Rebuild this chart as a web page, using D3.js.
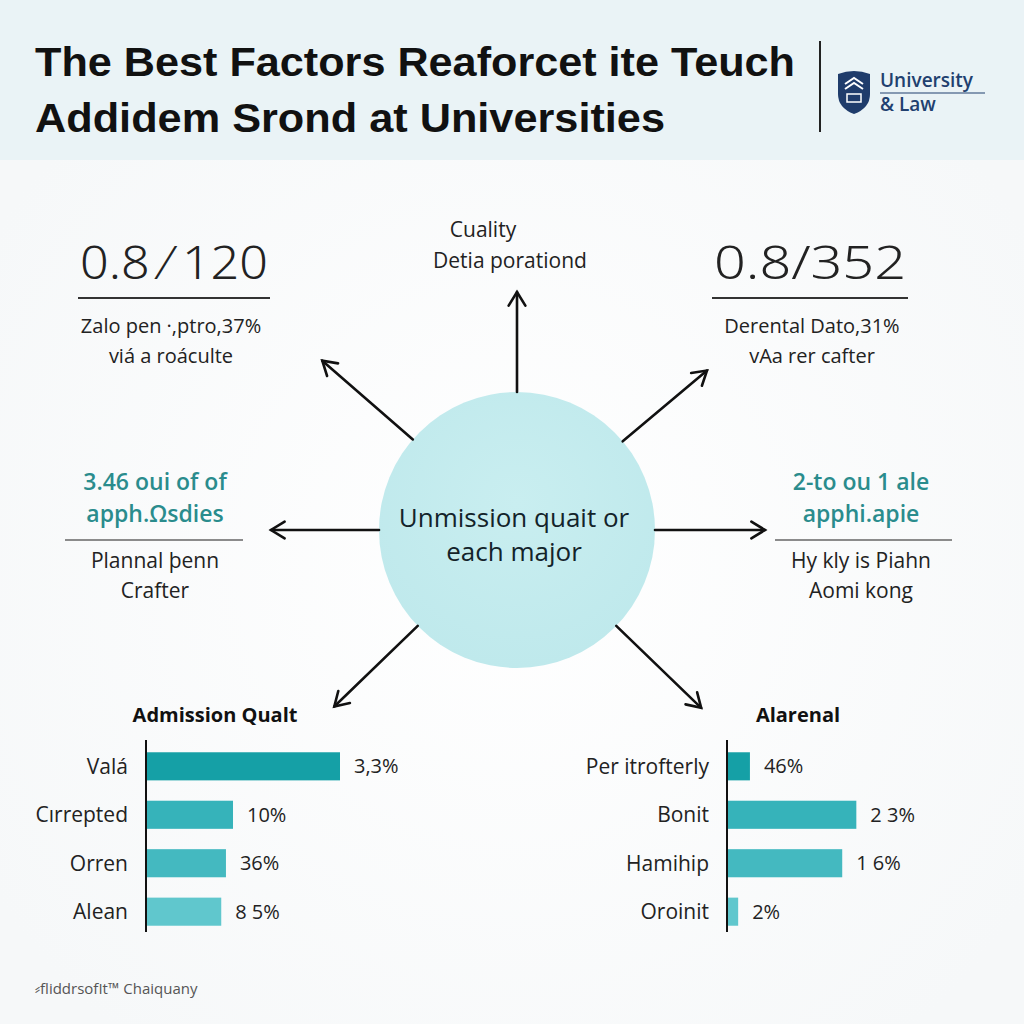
<!DOCTYPE html>
<html><head><meta charset="utf-8">
<script src="https://cdn.jsdelivr.net/npm/d3@7"></script>
<style>body{margin:0;background:#fff;}svg{display:block;}</style>
</head><body>
<script>
// ---- data ----
const titleLines = ["The Best Factors Reaforcet ite Teuch", "Addidem Srond at Universities"];
const logoLines = ["University", "& Law"];
const centerLines = ["Unmission quait or", "each major"];
const topLabel = ["Cuality", "Detia porationd"];
const statUL = {big: "0.8 ⁄ 120", lines: ["Zalo pen ·,ptro,37%", "viá a roáculte"]};
const statUR = {big: "0.8/352", lines: ["Derental Dato,31%", "vAa rer cafter"]};
const statML = {head: ["3.46 oui of of", "apph.Ωsdies"], lines: ["Plannal þenn", "Crafter"]};
const statMR = {head: ["2-to ou 1 ale", "apphi.apie"], lines: ["Hy kly is Piahn", "Aomi kong"]};
const leftTitle = "Admission Qualt";
const leftCats = ["Valá", "Cırrepted", "Orren", "Alean"];
const leftValues = [33, 14.8, 13.6, 12.8];
const leftLabels = ["3,3%", "10%", "36%", "8 5%"];
const rightTitle = "Alarenal";
const rightCats = ["Per itrofterly", "Bonit", "Hamihip", "Oroinit"];
const rightValues = [3.9, 22, 19.6, 1.9];
const rightLabels = ["46%", "2 3%", "1 6%", "2%"];
const barColors = ["#15a0a6", "#36b3ba", "#44b9c0", "#60c7cd"];
const footer = "⸗fliddrsofIt™ Chaiquany";
// arrow directions (degrees from centre, 0 = right, clockwise)
const arrowAngles = [-90, -139, -40, 180, 0, 136, 44];
const arrowLengths = [100, 120, 110, 108, 110, 116, 118];

const W = 1024, H = 1024;
const svg = d3.select("body").append("svg").attr("width", W).attr("height", H);
const defs = svg.append("defs");
const rg = defs.append("radialGradient").attr("id", "bg").attr("cx", "50%").attr("cy", "55%").attr("r", "60%");
rg.append("stop").attr("offset", "0%").attr("stop-color", "#ffffff");
rg.append("stop").attr("offset", "100%").attr("stop-color", "#f6f8f9");
const cg = defs.append("radialGradient").attr("id", "cg").attr("cx", "50%").attr("cy", "40%").attr("r", "60%");
cg.append("stop").attr("offset", "0%").attr("stop-color", "#c9eef0");
cg.append("stop").attr("offset", "100%").attr("stop-color", "#bfe9ec");

svg.append("rect").attr("width", W).attr("height", H).attr("fill", "url(#bg)");
// header
svg.append("rect").attr("width", W).attr("height", 160).attr("fill", "#eaf3f6");
const font = "'Open Sans', 'Noto Sans', sans-serif";
svg.append("g").selectAll("text").data(titleLines).join("text")
  .attr("x", 35).attr("y", (d, i) => 76 + i * 56)
  .attr("font-family", "'Liberation Sans', Arial, sans-serif").attr("font-weight", "bold")
  .attr("font-size", 41).attr("fill", "#111").attr("textLength", (d, i) => i ? 630 : 760)
  .attr("lengthAdjust", "spacingAndGlyphs").text(d => d);
svg.append("line").attr("x1", 820).attr("x2", 820).attr("y1", 41).attr("y2", 132)
  .attr("stroke", "#222").attr("stroke-width", 2);
// logo shield
const lg = svg.append("g").attr("transform", "translate(838,70)");
lg.append("path").attr("d", "M0,4 Q16,-2 32,4 L32,24 Q32,38 16,44 Q0,38 0,24 Z").attr("fill", "#1f3c6b");
lg.append("path").attr("d", "M7,14 L16,8 L25,14 M7,19 L16,13 L25,19").attr("stroke", "#fff").attr("stroke-width", 2).attr("fill", "none");
lg.append("rect").attr("x", 9).attr("y", 24).attr("width", 14).attr("height", 8).attr("fill", "none").attr("stroke", "#fff").attr("stroke-width", 1.5);
svg.append("g").selectAll("text").data(logoLines).join("text")
  .attr("x", 880).attr("y", (d, i) => 87 + i * 24)
  .attr("font-family", font).attr("font-weight", 600).attr("font-size", 19)
  .attr("fill", "#21406f").text(d => d);
svg.append("line").attr("x1", 880).attr("x2", 985).attr("y1", 93).attr("y2", 93).attr("stroke", "#21406f").attr("stroke-width", 1.2);

// centre circle
const cx = 517, cy = 530, R = 138;
svg.append("circle").attr("cx", cx).attr("cy", cy).attr("r", R).attr("fill", "url(#cg)");
svg.append("g").selectAll("text").data(centerLines).join("text")
  .attr("x", cx - 3).attr("y", (d, i) => 527 + i * 34).attr("text-anchor", "middle")
  .attr("font-family", font).attr("font-weight", 500).attr("font-size", 26).attr("fill", "#13232a").text(d => d);

// arrows
const ag = svg.append("g").attr("stroke", "#111").attr("stroke-width", 2.6).attr("fill", "none").attr("stroke-linecap", "round");
arrowAngles.forEach((a, i) => {
  const r = Math.PI * a / 180;
  const x1 = cx + Math.cos(r) * R, y1 = cy + Math.sin(r) * R;
  const x2 = cx + Math.cos(r) * (R + arrowLengths[i]), y2 = cy + Math.sin(r) * (R + arrowLengths[i]);
  ag.append("line").attr("x1", x1).attr("y1", y1).attr("x2", x2).attr("y2", y2);
  const h = 16, sp = 0.55;
  const p1 = [x2 - Math.cos(r - sp) * h, y2 - Math.sin(r - sp) * h];
  const p2 = [x2 - Math.cos(r + sp) * h, y2 - Math.sin(r + sp) * h];
  ag.append("path").attr("d", `M${p1}L${x2},${y2}L${p2}`);
});

// top label
svg.append("g").selectAll("text").data(topLabel).join("text")
  .attr("x", (d, i) => i ? 510 : 483).attr("y", (d, i) => 237 + i * 31).attr("text-anchor", "middle")
  .attr("font-family", font).attr("font-size", 21).attr("fill", "#222").text(d => d);

function bigStat(s, x0, x1, cxT) {
  const g = svg.append("g");
  g.append("text").attr("x", x0 + 2).attr("y", 279)
    .attr("font-family", "'Noto Sans', sans-serif").attr("font-weight", 300).attr("font-size", 45).attr("fill", "#222")
    .attr("textLength", x1 - x0 - 4).attr("lengthAdjust", "spacingAndGlyphs").text(s.big);
  g.append("line").attr("x1", x0).attr("x2", x1).attr("y1", 298).attr("y2", 298).attr("stroke", "#333").attr("stroke-width", 2);
  g.selectAll("text.s").data(s.lines).join("text").attr("class", "s")
    .attr("x", cxT).attr("y", (d, i) => 333 + i * 30).attr("text-anchor", "middle")
    .attr("font-family", font).attr("font-size", 20).attr("fill", "#222").text(d => d);
}
bigStat(statUL, 78, 270, 171);
bigStat(statUR, 712, 908, 812);

function midStat(s, x0, x1, cxT) {
  const g = svg.append("g");
  g.selectAll("text.h").data(s.head).join("text").attr("class", "h")
    .attr("x", cxT).attr("y", (d, i) => 490 + i * 32).attr("text-anchor", "middle")
    .attr("font-family", font).attr("font-weight", 600).attr("font-size", 23).attr("fill", "#2a8c8d").text(d => d);
  g.append("line").attr("x1", x0).attr("x2", x1).attr("y1", 540).attr("y2", 540).attr("stroke", "#666").attr("stroke-width", 1.5);
  g.selectAll("text.s").data(s.lines).join("text").attr("class", "s")
    .attr("x", cxT).attr("y", (d, i) => 568 + i * 30).attr("text-anchor", "middle")
    .attr("font-family", font).attr("font-size", 21).attr("fill", "#222").text(d => d);
}
midStat(statML, 65, 243, 155);
midStat(statMR, 775, 952, 861);

// bar charts
const x = d3.scaleLinear().domain([0, 33]).range([0, 194]);
function barChart(title, titleX, axisX, cats, vals, labels) {
  const g = svg.append("g");
  const y = d3.scaleBand().domain(cats).range([745, 933]).paddingInner(0.42).paddingOuter(0.15);
  g.append("text").attr("x", titleX).attr("y", 722).attr("text-anchor", "middle")
    .attr("font-family", font).attr("font-weight", "bold").attr("font-size", 20).attr("fill", "#111").text(title);
  g.selectAll("rect").data(cats).join("rect")
    .attr("x", axisX).attr("y", d => y(d)).attr("height", y.bandwidth())
    .attr("width", (d, i) => x(vals[i])).attr("fill", (d, i) => barColors[i]);
  g.append("line").attr("x1", axisX).attr("x2", axisX).attr("y1", 740).attr("y2", 932).attr("stroke", "#111").attr("stroke-width", 2);
  g.selectAll("text.c").data(cats).join("text").attr("class", "c")
    .attr("x", axisX - 18).attr("y", d => y(d) + y.bandwidth() / 2).attr("dy", "0.35em").attr("text-anchor", "end")
    .attr("font-family", font).attr("font-size", 21).attr("fill", "#222").text(d => d);
  g.selectAll("text.v").data(cats).join("text").attr("class", "v")
    .attr("x", (d, i) => axisX + x(vals[i]) + 14).attr("y", d => y(d) + y.bandwidth() / 2).attr("dy", "0.35em")
    .attr("font-family", font).attr("font-size", 20).attr("fill", "#222").text((d, i) => labels[i]);
}
barChart(leftTitle, 215, 146, leftCats, leftValues, leftLabels);
barChart(rightTitle, 798, 727, rightCats, rightValues, rightLabels);

svg.append("text").attr("x", 35).attr("y", 994).attr("font-family", font).attr("font-size", 15)
  .attr("fill", "#555").text(footer);
</script>
</body></html>
